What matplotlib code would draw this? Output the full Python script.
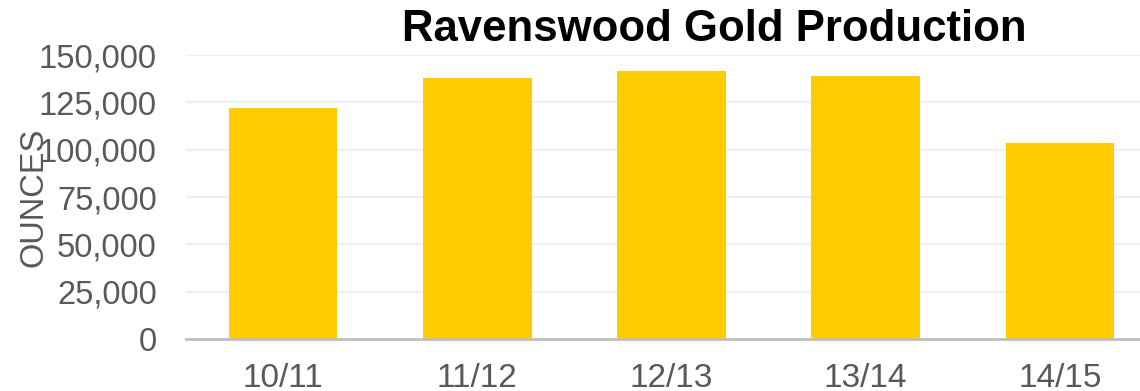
import matplotlib.pyplot as plt
from matplotlib.ticker import FuncFormatter

years = ['10/11', '11/12', '12/13', '13/14', '14/15']
ounces = [122000, 137900, 141600, 138900, 103500]
yticks = [0, 25000, 50000, 75000, 100000, 125000, 150000]

plt.rcParams['font.family'] = ['Liberation Sans', 'DejaVu Sans']

fig = plt.figure(figsize=(11.4, 3.91), dpi=100)
ax = fig.add_axes([0.163, 0.133, 0.852, 0.726])

ax.bar(range(len(years)), ounces, width=0.56, color='#ffcc00', zorder=2)
ax.set_xlim(-0.5, len(years) - 0.5)
ax.set_ylim(0, 150000)
ax.set_yticks(yticks)
ax.yaxis.set_major_formatter(FuncFormatter(lambda v, p: f'{int(v):,}'))
ax.set_xticks(range(len(years)))
ax.set_xticklabels(years)

ax.grid(axis='y', color='#efefef', linewidth=1.5, zorder=0)
for s in ['top', 'right', 'left']:
    ax.spines[s].set_visible(False)
ax.spines['bottom'].set_color('#bfbfbf')
ax.spines['bottom'].set_linewidth(2)
ax.spines['bottom'].set_zorder(3)

ax.tick_params(axis='y', length=0, pad=21, labelsize=23.5, labelcolor='#595959')
ax.tick_params(axis='x', length=0, pad=17, labelsize=24, labelcolor='#595959')

# the reference has the axis title sitting over the tick labels
ax.set_ylabel('OUNCES', fontsize=23.5, color='#595959')
ax.yaxis.set_label_coords(-0.14, 0.5)

fig.text(0.627, 0.925, 'Ravenswood Gold Production', fontsize=31.5, fontweight='bold',
         ha='center', va='center', color='black')

fig.savefig('out.png', dpi=100)
